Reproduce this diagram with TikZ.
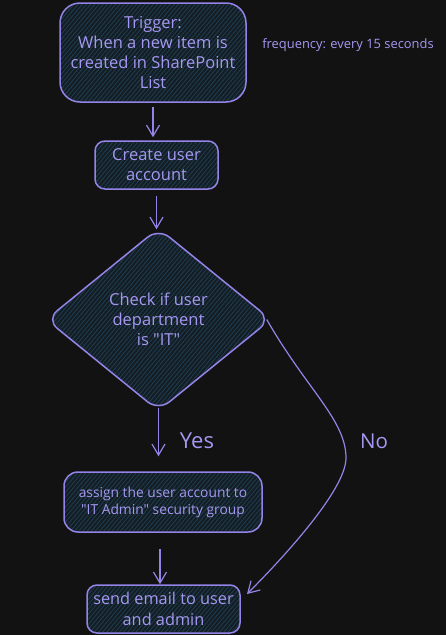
\documentclass[tikz,border=0pt]{standalone}
\usepackage{fontspec}
\setmainfont{Open Sans}[Ligatures=TeXOff]
\usetikzlibrary{shapes.geometric,arrows.meta,patterns.meta,calc}
\definecolor{bg}{HTML}{121212}
\definecolor{strk}{HTML}{9484E8}
\definecolor{txt}{HTML}{A698F2}
\definecolor{fillbase}{HTML}{141D24}
\definecolor{hatch}{HTML}{1E3C4E}
\begin{document}
\begin{tikzpicture}[x=1pt,y=-1pt,
  shapebox/.style={draw=strk, line width=1.5pt, rounded corners=18pt, inner sep=0pt,
    preaction={fill=fillbase},
    pattern={Lines[angle=50,distance=3.2pt,line width=0.9pt]}, pattern color=hatch,
    text=txt, align=center},
  mainfont/.style={font=\fontsize{16.5}{20}\selectfont},
  arr/.style={draw=strk, line width=1.2pt, -{Straight Barb[length=11pt,width=13pt,line width=1.2pt]}},
  lbl/.style={text=txt, inner sep=0pt}]
\fill[bg] (0,0) rectangle (446,635);
\useasboundingbox (0,0) rectangle (446,635);

\node[shapebox, mainfont, minimum width=186pt, minimum height=99pt, rounded corners=20pt]
  (trigger) at (153,52.5) {Trigger:\\When a new item is\\created in SharePoint\\List};
\node[lbl, font=\fontsize{12.9}{14}\selectfont] (freq) at (348,45) {frequency: every 15 seconds};

\node[shapebox, mainfont, minimum width=123pt, minimum height=48pt, rounded corners=10pt]
  (create) at (156.5,165) {Create user\\account};

\node[shapebox, mainfont, diamond, aspect=1.23, minimum width=225pt, minimum height=183pt, rounded corners=14pt]
  (check) at (158.5,319.5) {Check if user\\department\\is "IT"};

\node[shapebox, font=\fontsize{13.8}{17}\selectfont, minimum width=198pt, minimum height=60pt, rounded corners=14pt]
  (assign) at (163,502) {assign the user account to\\"IT Admin" security group};

\node[shapebox, font=\fontsize{16.3}{21}\selectfont, minimum width=153pt, minimum height=48pt, rounded corners=10pt]
  (send) at (163.5,609) {send email to user\\and admin};

\node[lbl, font=\fontsize{22}{24}\selectfont] (yes) at (197,441) {Yes};
\node[lbl, font=\fontsize{20.5}{24}\selectfont] (no) at (374,441) {No};

\draw[arr, shorten <=5pt, shorten >=3pt] (trigger.south) -- (trigger.south |- create.north);
\draw[arr, shorten <=6pt, shorten >=-2pt] (create.south) -- (create.south |- check.north);
\draw[arr, shorten <=-4pt, shorten >=15pt] (check.south) -- (check.south |- assign.north);
\draw[arr, shorten <=16pt, shorten >=0pt] ([xshift=-3pt]assign.south) -- ([xshift=-3pt]assign.south |- send.north);

\coordinate (nostart) at ([xshift=-5pt]check.east);
\coordinate (apex) at (346,458);
\coordinate (noend) at (247,594);
\draw[arr] (nostart) .. controls ($(nostart)+(40,70)$) and ($(apex)+(0,-38)$) .. (apex)
  .. controls ($(apex)+(0,32)$) and ($(noend)+(35,-35)$) .. (noend);
\end{tikzpicture}
\end{document}
